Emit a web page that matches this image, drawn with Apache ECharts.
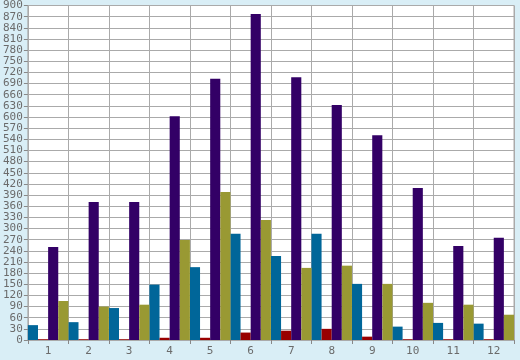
<!DOCTYPE html>
<html><head><meta charset="utf-8">
<script src="https://cdn.jsdelivr.net/npm/echarts@6/dist/echarts.min.js"></script>
<style>html,body{margin:0;padding:0;background:#d9eef6;}#c{width:520px;height:360px;}</style>
</head><body><div id="c"></div>
<script>
var categories = ['1','2','3','4','5','6','7','8','9','10','11','12'];
var seriesTeal = [40, 48, 86, 149, 196, 286, 226, 286, 151, 36, 46, 44];
var seriesRed = [2, 2, 2, 6, 6, 20, 25, 30, 9, 2, 2, 2];
var seriesPurple = [250, 371, 371, 602, 703, 877, 707, 632, 551, 409, 253, 275];
var seriesOlive = [105, 90, 95, 269, 398, 323, 194, 200, 151, 100, 95, 68];
var yMin = 0, yMax = 900, yStep = 30;

var chart = echarts.init(document.getElementById('c'), null, {renderer:'canvas'});
var font = {fontFamily:'DejaVu Sans Mono', fontSize:11, color:'#6b6b6b'};
function bar(name, data, color){
  return {name:name, type:'bar', data:data, barGap:'0%', barCategoryGap:'0%',
    itemStyle:{color:color}, animation:false};
}
chart.setOption({
  backgroundColor:'#d9eef6',
  animation:false,
  grid:{left:26, right:6, top:5, bottom:20, show:true, backgroundColor:'#ffffff', borderColor:'#aaaaaa', borderWidth:1},
  xAxis:{type:'category', data:categories,
    axisLine:{lineStyle:{color:'#aaaaaa'}},
    axisTick:{show:true, length:4, lineStyle:{color:'#888888'}},
    axisLabel:Object.assign({margin:6}, font),
    splitLine:{show:true, lineStyle:{color:'#aaaaaa', width:1}}},
  yAxis:{type:'value', min:yMin, max:yMax, interval:yStep,
    axisLine:{show:true, lineStyle:{color:'#aaaaaa'}},
    axisTick:{show:true, length:4, lineStyle:{color:'#888888'}},
    axisLabel:Object.assign({margin:5}, font),
    splitLine:{show:true, lineStyle:{color:'#aaaaaa', width:1}}},
  series:[
    bar('A', seriesTeal, '#006699'),
    bar('B', seriesRed, '#990000'),
    bar('C', seriesPurple, '#330066'),
    bar('D', seriesOlive, '#999933')
  ]
});
</script></body></html>
